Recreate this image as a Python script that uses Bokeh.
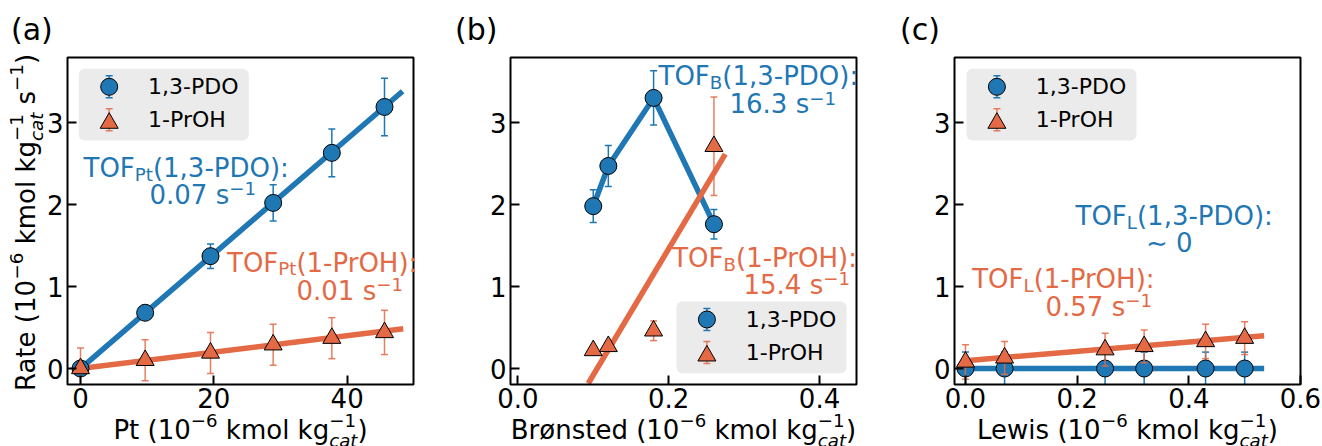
import numpy as np
from bokeh.plotting import figure
from bokeh.layouts import row
from bokeh.models import (ColumnDataSource, FixedTicker, NumeralTickFormatter,
                          Label, BoxAnnotation, Range1d)
from bokeh.embed import file_html
from bokeh.resources import INLINE

BLUE = "#1f77b4"
ORANGE = "#e36a45"
FONT = "DejaVu Sans"

# ---------------- data ----------------
# (a) Pt loading
pt_loading = [0.0, 9.7, 19.5, 28.9, 37.7, 45.6]
pt_rate_pdo = [0.00, 0.68, 1.37, 2.02, 2.63, 3.19]
pt_err_pdo = [0.05, 0.05, 0.15, 0.22, 0.29, 0.35]
pt_rate_proh = [0.00, 0.10, 0.19, 0.29, 0.37, 0.44]
pt_err_proh = [0.25, 0.25, 0.25, 0.25, 0.25, 0.27]
pt_fit_x = [0.0, 48.0]
pt_tof_pdo = 0.07
pt_tof_proh = 0.01

# (b) Bronsted sites
br_sites = [0.100, 0.120, 0.180, 0.260]
br_rate_pdo = [1.98, 2.47, 3.30, 1.76]
br_err_pdo = [0.20, 0.25, 0.33, 0.18]
br_rate_proh = [0.22, 0.27, 0.46, 2.71]
br_err_proh = [0.03, 0.03, 0.12, 0.60]
br_fit_x = [0.08, 0.275]
br_tof_proh = 15.4
br_icpt_proh = -1.62

# (c) Lewis sites
le_sites = [0.00, 0.07, 0.25, 0.32, 0.43, 0.50]
le_rate_pdo = [0.0, 0.0, 0.0, 0.0, 0.0, 0.0]
le_err_pdo = [0.20, 0.20, 0.20, 0.20, 0.20, 0.20]
le_rate_proh = [0.08, 0.13, 0.23, 0.27, 0.33, 0.37]
le_err_proh = [0.21, 0.20, 0.20, 0.20, 0.21, 0.20]
le_fit_x = [0.0, 0.53]
le_tof_pdo = 0.0
le_tof_proh = 0.57
le_icpt_proh = 0.095

y_ticks = [0, 1, 2, 3]
pt_ticks = [0, 20, 40]
br_ticks = [0.0, 0.2, 0.4]
le_ticks = [0.0, 0.2, 0.4, 0.6]
series_names = ["1,3-PDO", "1-PrOH"]

# ---------------- helpers ----------------
ADV = {' ': 651, '(': 799, ')': 799, ',': 651, '-': 739, '.': 651, ':': 690,
       'B': 1405, 'D': 1577, 'F': 1178, 'H': 1540, 'L': 1141, 'O': 1612,
       'P': 1235, 'R': 1423, 'T': 1251, 'a': 1255, 'c': 1126, 'd': 1300,
       'e': 1260, 'g': 1300, 'i': 569, 'k': 1186, 'l': 569, 'm': 1995,
       'n': 1298, 'o': 1253, 'r': 842, 's': 1067, 't': 803, 'w': 1675,
       'ø': 1253, '−': 1716, '∼': 1716}
for d in "0123456789":
    ADV[d] = 1303


def tw(s, size):
    return sum(ADV.get(ch, 1250) for ch in s) / 2048.0 * size


FS = 26.0
SS = FS * 0.7
KB = 0.37                     # baseline compensation (fraction of font size)
YB = (-0.195, 3.793)          # visible y limits of every axes box
FW, FH, FT = 346.0, 327.0, 57.0
CH = 446


class Panel:
    """One panel; the Bokeh frame covers the whole canvas, the axes box is inside it."""

    def __init__(self, width, L, xbox, xticks, fmt):
        self.L, self.xbox = L, xbox
        u = (xbox[1] - xbox[0]) / FW
        v = (YB[1] - YB[0]) / FH
        self.u, self.v = u, v
        self.xr = (xbox[0] - L * u, xbox[0] + (width - L) * u)
        self.yr = (YB[0] - (CH - FT - FH) * v, YB[1] + FT * v)
        p = figure(width=width, height=CH, x_range=Range1d(*self.xr),
                   y_range=Range1d(*self.yr), min_border=0, toolbar_location=None,
                   tools="", output_backend="svg")
        p.grid.visible = False
        p.outline_line_color = None
        p.background_fill_color = "white"
        p.border_fill_color = "white"
        for ax in (p.xaxis[0], p.yaxis[0]):
            ax.axis_line_color = None
            ax.major_tick_in = 9
            ax.major_tick_out = 0
            ax.major_tick_line_width = 2
            ax.major_tick_line_color = "black"
            ax.minor_tick_line_color = None
            ax.major_label_text_font = FONT
            ax.major_label_text_font_size = "26px"
            ax.major_label_text_color = "black"
        p.xaxis.fixed_location = YB[0]
        p.yaxis.fixed_location = xbox[0]
        p.xaxis.ticker = FixedTicker(ticks=xticks)
        p.yaxis.ticker = FixedTicker(ticks=y_ticks)
        p.xaxis.formatter = NumeralTickFormatter(format=fmt)
        p.yaxis.formatter = NumeralTickFormatter(format="0")
        p.xaxis.major_label_standoff = 3
        p.yaxis.major_label_standoff = 4
        # axes box (spines)
        p.add_layout(BoxAnnotation(left=xbox[0], right=xbox[1], bottom=YB[0], top=YB[1],
                                   fill_color=None, fill_alpha=0, line_color="black",
                                   line_alpha=1.0, line_width=2, level="annotation"))
        self.p = p

    def x(self, px):
        return self.xr[0] + px * self.u

    def y(self, py):
        return self.yr[1] - py * self.v

    def put(self, px, py, text, size, color, italic=False, vertical=False):
        if vertical:
            px, angle = px - KB * size, np.pi / 2
        else:
            py, angle = py - KB * size, 0.0
        self.p.add_layout(Label(x=self.x(px), y=self.y(py), text=text, text_font=FONT,
                                text_font_size=f"{size:.1f}px", text_color=color,
                                text_baseline="alphabetic", text_align="left",
                                text_font_style="italic" if italic else "normal",
                                angle=angle))

    def rich(self, px, py, segs, color="black", vertical=False, center=False):
        # segs: (text, size, shift_up_px, italic) or ("STACK", seg, seg)
        def width(seg):
            if seg[0] == "STACK":
                return max(tw(s[0], s[1]) for s in seg[1:])
            return tw(seg[0], seg[1])
        total = sum(width(s) for s in segs)
        adv = -total / 2.0 if center else 0.0
        for seg in segs:
            items = seg[1:] if seg[0] == "STACK" else [seg]
            for (t, s, dy, it) in items:
                stripped = t.lstrip(" ")
                a = adv + tw(t[:len(t) - len(stripped)], s)
                if vertical:
                    self.put(px - dy, py - a, stripped, s, color, it, True)
                else:
                    self.put(px + a, py - dy, stripped, s, color, it)
            adv += width(seg)

    def errbars(self, x, y, e, color, alpha=1.0):
        x, y, e = np.asarray(x, float), np.asarray(y, float), np.asarray(e, float)
        lo, hi = y - e, y + e
        inside = lo >= YB[0]
        src = ColumnDataSource(dict(x=x, lo=np.maximum(lo, YB[0]), hi=np.minimum(hi, YB[1])))
        self.p.segment(x0="x", y0="lo", x1="x", y1="hi", source=src, line_color=color,
                       line_width=1.5, line_alpha=alpha)
        self.p.scatter(x=x[inside], y=lo[inside], marker="dash", size=7,
                       line_color=color, line_width=1.5, line_alpha=alpha)
        self.p.scatter(x=x, y=hi, marker="dash", size=7,
                       line_color=color, line_width=1.5, line_alpha=alpha)

    def series(self, x, y, e, kind):
        if kind == 0:
            self.errbars(x, y, e, BLUE, 1.0)
            self.p.scatter(x=x, y=y, marker="circle", size=17, fill_color=BLUE,
                           line_color="black", line_width=1)
        else:
            self.errbars(x, y, e, ORANGE, 0.85)
            self.p.scatter(x=x, y=y, marker="triangle", size=18, fill_color=ORANGE,
                           line_color="black", line_width=1)

    def fit(self, xs, slope, icpt, color, cap="square"):
        xs = np.asarray(xs, float).copy()
        if slope > 0:
            # clip the fitted line to the bottom of the axes box
            xs[0] = max(xs[0], (YB[0] + 0.012 - icpt) / slope)
        self.p.line(x=xs, y=slope * xs + icpt, line_color=color, line_width=5.5,
                    line_cap=cap)

    def legend(self, bx, by):
        self.p.add_layout(BoxAnnotation(left=self.x(bx), right=self.x(bx + 170),
                                        top=self.y(by), bottom=self.y(by + 71.7),
                                        fill_color="#ebebeb", fill_alpha=1.0,
                                        line_color=None, border_radius=6,
                                        level="underlay"))
        mx = self.x(bx + 30.4)
        e = 11.0 * self.v
        for i, (name, cy, ey) in enumerate(zip(series_names, (18.0, 54.3), (18.0, 51.0))):
            col = BLUE if i == 0 else ORANGE
            self.errbars([mx], [self.y(by + ey)], [e], col, 1.0 if i == 0 else 0.85)
            if i == 0:
                self.p.scatter(x=[mx], y=[self.y(by + cy)], marker="circle", size=17,
                               fill_color=BLUE, line_color="black", line_width=1)
            else:
                self.p.scatter(x=[mx], y=[self.y(by + cy)], marker="triangle", size=18,
                               fill_color=ORANGE, line_color="black", line_width=1)
            self.put(bx + 69.3, by + (25.7 if i == 0 else 59.0), name, 22, "black")

    def xlabel(self, prefix):
        self.rich(self.L + FW / 2, 439, [
            (prefix + " (10", FS, 0, False), ("−6", SS, 12.5, False),
            (" kmol kg", FS, 0, False),
            ("STACK", ("cat", SS, -8, True), ("−1", SS, 12.5, False)),
            (")", FS, 0, False)], center=True)


def tof_text(P, px1, py1, px2, py2, sub, species, value, color):
    P.rich(px1, py1, [("TOF", FS, 0, False), (sub, SS, -3.5, False),
                      ("(" + species + "):", FS, 0, False)], color)
    if value is None:
        P.rich(px2, py2, [("∼ 0", FS, 0, False)], color)
    else:
        P.rich(px2, py2, [(value + " s", FS, 0, False), ("−1", SS, 9, False)], color)


# ---------------- panel (a) ----------------
A = Panel(440, 67, (-1.95, 49.95), pt_ticks, "0")
A.fit(pt_fit_x, pt_tof_pdo, 0.0, BLUE)
A.fit(pt_fit_x, pt_tof_proh, 0.0, ORANGE)
A.series(pt_loading, pt_rate_pdo, pt_err_pdo, 0)
A.series(pt_loading, pt_rate_proh, pt_err_proh, 1)
A.legend(78.3, 68.3)
tof_text(A, 83, 177.5, 149, 204, "Pt", "1,3-PDO", f"{pt_tof_pdo:.2f}", BLUE)
tof_text(A, 226.5, 271.7, 296, 300, "Pt", "1-PrOH", f"{pt_tof_proh:.2f}", ORANGE)
A.xlabel("Pt")
A.rich(35, FT + FH / 2 + 1.5, [
    ("Rate (10", FS, 0, False), ("−6", SS, 12.5, False), (" kmol kg", FS, 0, False),
    ("STACK", ("cat", SS, -8, True), ("−1", SS, 12.5, False)),
    (" s", FS, 0, False), ("−1", SS, 12.5, False), (")", FS, 0, False)],
    vertical=True, center=True)
A.put(10.5, 40, "(a)", 30, "black")

# ---------------- panel (b) ----------------
B = Panel(440, 70, (-0.0097, 0.449), br_ticks, "0.0")
B.p.line(x=br_sites, y=br_rate_pdo, line_color=BLUE, line_width=5.5, line_join="round")
B.fit(br_fit_x, br_tof_proh, br_icpt_proh, ORANGE, cap="butt")
B.series(br_sites, br_rate_pdo, br_err_pdo, 0)
B.series(br_sites, br_rate_proh, br_err_proh, 1)
B.legend(236, 301)
tof_text(B, 218, 85.5, 289, 113.3, "B", "1,3-PDO", "16.3", BLUE)
tof_text(B, 231.7, 267, 303, 294, "B", "1-PrOH", f"{br_tof_proh:.1f}", ORANGE)
B.xlabel("Brønsted")
B.put(14.5, 40, "(b)", 30, "black")

# ---------------- panel (c) ----------------
C = Panel(442, 74, (-0.0197, 0.600), le_ticks, "0.0")
C.fit(le_fit_x, le_tof_pdo, 0.0, BLUE)
C.fit(le_fit_x, le_tof_proh, le_icpt_proh, ORANGE)
C.series(le_sites, le_rate_pdo, le_err_pdo, 0)
C.series(le_sites, le_rate_proh, le_err_proh, 1)
C.legend(86, 68.3)
tof_text(C, 195, 225, 265.4, 251.7, "L", "1,3-PDO", None, BLUE)
tof_text(C, 91.7, 288.3, 165, 316, "L", "1-PrOH", f"{le_tof_proh:.2f}", ORANGE)
C.xlabel("Lewis")
C.put(19.5, 40, "(c)", 30, "black")

layout = row(A.p, B.p, C.p, spacing=0)
open("out.html", "w", encoding="utf-8").write(file_html(layout, INLINE))
